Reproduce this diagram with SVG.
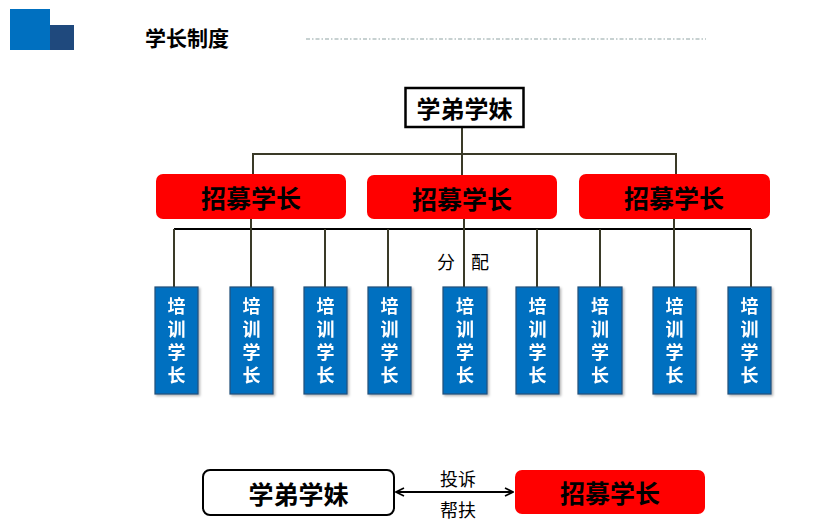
<svg xmlns="http://www.w3.org/2000/svg" width="835" height="530" viewBox="0 0 835 530">
<style>
.bold{font-family:"Noto Sans CJK SC","Liberation Sans",sans-serif;font-weight:bold;text-anchor:middle;dominant-baseline:central}
.reg{font-family:"Noto Sans CJK SC","Liberation Sans",sans-serif;text-anchor:middle;dominant-baseline:central;fill:#000}
.red{fill:#FF0000;stroke:none}
.train rect{fill:#0070C0;stroke:#1F4E79;stroke-width:1.2}
.train text{fill:#fff;font-size:18px;font-family:"Noto Sans CJK SC","Liberation Sans",sans-serif;font-weight:bold;writing-mode:vertical-rl;text-anchor:middle;letter-spacing:5px}
.conn{stroke:#3A3A28;stroke-width:2;fill:none}
</style>
<defs>
<marker id="ah" viewBox="0 0 10 10" refX="9" refY="5" markerWidth="10" markerHeight="10" markerUnits="userSpaceOnUse" orient="auto-start-reverse">
<path d="M1,1 L9,5 L1,9" fill="none" stroke="#000" stroke-width="1.6"/>
</marker>
<filter id="sh" x="-10%" y="-10%" width="130%" height="130%">
<feDropShadow dx="1.5" dy="1.5" stdDeviation="1" flood-color="#000" flood-opacity="0.3"/>
</filter>
</defs>
<rect width="835" height="530" fill="#fff"/>
<g id="logo">
<rect x="10" y="9" width="40" height="41" fill="#0070C0"/>
<rect x="50" y="25" width="24" height="25" fill="#1F497D"/>
</g>
<text class="bold" x="187" y="37" font-size="21" fill="#000">学长制度</text>
<line x1="306" y1="39" x2="706" y2="39" stroke="#8FA3A3" stroke-width="1.2" stroke-dasharray="4,2,1.5,2"/>

<g id="connectors">
<line class="conn" x1="462" y1="127" x2="462" y2="176"/>
<polyline class="conn" points="253,175 253,154 676,154 676,175"/>
<line x1="174" y1="229" x2="751" y2="229" stroke="#000" stroke-width="2.2"/>
<line class="conn" x1="174" y1="229" x2="174" y2="287"/>
<line class="conn" x1="251" y1="219" x2="251" y2="287"/>
<line class="conn" x1="325" y1="229" x2="325" y2="287"/>
<line class="conn" x1="388" y1="229" x2="388" y2="287"/>
<line class="conn" x1="464" y1="219" x2="464" y2="287"/>
<line class="conn" x1="537" y1="229" x2="537" y2="287"/>
<line class="conn" x1="600" y1="229" x2="600" y2="287"/>
<line class="conn" x1="674" y1="219" x2="674" y2="287"/>
<line class="conn" x1="751" y1="229" x2="751" y2="287"/>
<line x1="396" y1="492" x2="513" y2="492" stroke="#000" stroke-width="2" marker-start="url(#ah)" marker-end="url(#ah)"/>
</g>

<g id="top">
<rect x="405.5" y="88" width="118" height="39" fill="#fff" stroke="#000" stroke-width="2.5"/>
<text class="bold" x="464.5" y="107" font-size="24" fill="#000">学弟学妹</text>
</g>

<g id="recruit1">
<rect class="red" x="156" y="174" width="190" height="45" rx="7"/>
<text class="bold" x="251" y="197" font-size="25" fill="#000">招募学长</text>
</g>
<g id="recruit2">
<rect class="red" x="367" y="175" width="190" height="44" rx="7"/>
<text class="bold" x="462" y="198" font-size="25" fill="#000">招募学长</text>
</g>
<g id="recruit3">
<rect class="red" x="579" y="174" width="191" height="45" rx="7"/>
<text class="bold" x="674" y="197" font-size="25" fill="#000">招募学长</text>
</g>

<text class="reg" x="446" y="261" font-size="18">分</text>
<text class="reg" x="480" y="261" font-size="18">配</text>

<g id="train1" class="train" filter="url(#sh)">
<rect x="155" y="287" width="43" height="107"/>
<text x="176.5" y="343">培训学长</text>
</g>
<g id="train2" class="train" filter="url(#sh)">
<rect x="230" y="287" width="43" height="107"/>
<text x="251.5" y="343">培训学长</text>
</g>
<g id="train3" class="train" filter="url(#sh)">
<rect x="304" y="287" width="43" height="107"/>
<text x="325.5" y="343">培训学长</text>
</g>
<g id="train4" class="train" filter="url(#sh)">
<rect x="368" y="287" width="43" height="107"/>
<text x="389.5" y="343">培训学长</text>
</g>
<g id="train5" class="train" filter="url(#sh)">
<rect x="443" y="287" width="44" height="107"/>
<text x="465" y="343">培训学长</text>
</g>
<g id="train6" class="train" filter="url(#sh)">
<rect x="516" y="287" width="43" height="107"/>
<text x="537.5" y="343">培训学长</text>
</g>
<g id="train7" class="train" filter="url(#sh)">
<rect x="578" y="287" width="44" height="107"/>
<text x="600" y="343">培训学长</text>
</g>
<g id="train8" class="train" filter="url(#sh)">
<rect x="653" y="287" width="43" height="107"/>
<text x="674.5" y="343">培训学长</text>
</g>
<g id="train9" class="train" filter="url(#sh)">
<rect x="728" y="287" width="43" height="107"/>
<text x="749.5" y="343">培训学长</text>
</g>

<g id="bottom-left">
<rect x="203" y="470" width="191" height="45" rx="7" fill="#fff" stroke="#000" stroke-width="2"/>
<text class="bold" x="298.5" y="493" font-size="25" fill="#000">学弟学妹</text>
</g>
<g id="bottom-right">
<rect class="red" x="515" y="470" width="190" height="44" rx="7"/>
<text class="bold" x="610" y="492" font-size="25" fill="#000">招募学长</text>
</g>
<text class="reg" x="458" y="478" font-size="18">投诉</text>
<text class="reg" x="458" y="509" font-size="18">帮扶</text>
</svg>
